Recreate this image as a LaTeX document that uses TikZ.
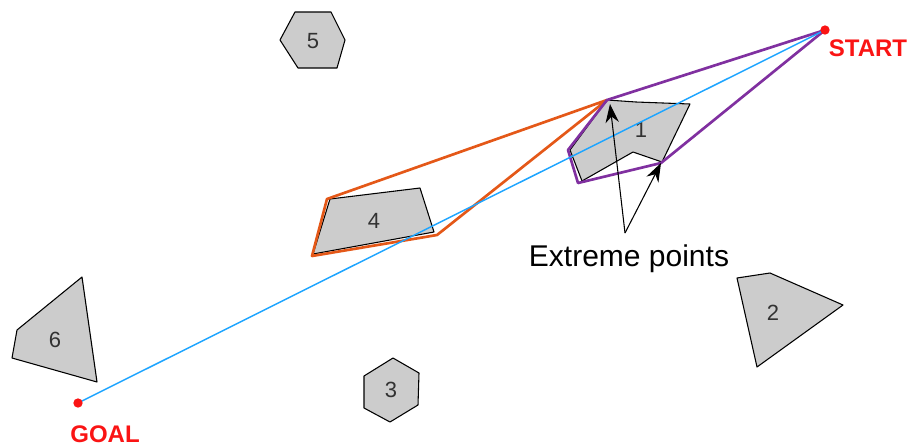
\documentclass[tikz,border=0pt]{standalone}
\usepackage{fontspec}
\setmainfont{Liberation Sans}
\usetikzlibrary{arrows.meta}
\definecolor{obsgray}{RGB}{204,204,204}
\definecolor{hullpurple}{RGB}{128,48,160}
\definecolor{hullorange}{RGB}{228,88,24}
\definecolor{pathblue}{RGB}{30,165,255}
\definecolor{ptred}{RGB}{250,20,20}
\definecolor{numgray}{RGB}{50,50,50}
\tikzset{
  obstacle/.style={draw=black,fill=obsgray,line width=0.8pt,line join=round},
  hullp/.style={draw=hullpurple,line width=2pt,line join=round},
  hullo/.style={draw=hullorange,line width=2pt,line join=round},
  pathline/.style={draw=pathblue,line width=1.1pt},
  numlabel/.style={text=numgray,font=\fontsize{16.5}{16.5}\selectfont,inner sep=0pt},
  endlabel/.style={text=ptred,font=\bfseries\fontsize{18}{18}\selectfont,inner sep=0pt},
  endpt/.style={circle,fill=ptred,minimum size=7pt,inner sep=0pt},
  pointer/.style={draw=black,line width=0.8pt,-{Stealth[length=14pt,width=10pt]}},
}
\begin{document}
\begin{tikzpicture}[x=0.75pt,y=-0.75pt]
\useasboundingbox (0,0) rectangle (913,447);
% obstacles
\draw[obstacle] (607,100) -- (636,102) -- (690,104) -- (662,162) -- (633,152) -- (582,181) -- (570,150) -- cycle;
\draw[obstacle] (737,278) -- (770,273) -- (843,305) -- (757,367) -- cycle;
\draw[obstacle] (393,358) -- (419,373) -- (418,405) -- (390,422) -- (364,408) -- (364,376) -- cycle;
\draw[obstacle] (330,199) -- (420,188) -- (434,232) -- (313,254) -- cycle;
\draw[obstacle] (295,12) -- (331,12) -- (345,40) -- (337,68) -- (298,68) -- (280,40) -- cycle;
\draw[obstacle] (82,277) -- (17,330) -- (12,358) -- (97,382) -- cycle;
% labels
\node[numlabel] (l1) at (641,130) {1};
\node[numlabel] (l2) at (773,313) {2};
\node[numlabel] (l3) at (391,390) {3};
\node[numlabel] (l4) at (374,221) {4};
\node[numlabel] (l5) at (313,41) {5};
\node[numlabel] (l6) at (55,340) {6};
% start / goal
\coordinate (S) at (825,30);
\coordinate (G) at (78,403);
% hull points
\coordinate (e1) at (607,100);
\coordinate (e2) at (661,163);
\coordinate (p1) at (568,150);
\coordinate (p2) at (578,183);
\coordinate (o1) at (327,199);
\coordinate (o2) at (437,235);
\coordinate (o3) at (312,256);
% hulls
\draw[hullo] (e1) -- (o1) -- (o3) -- (o2) -- cycle;
\draw[hullp] (S) -- (e1) -- (p1) -- (p2) -- (e2) -- cycle;
% straight path
\draw[pathline] (S) -- (G);
\node[endpt] (sdot) at (S) {};
\node[endpt] (gdot) at (G) {};
\node[endlabel] (slab) at (868,48) {START};
\node[endlabel] (glab) at (105,434) {GOAL};
% extreme points callout
\coordinate (apex) at (625,233);
\draw[pointer] (apex) -- (610,104);
\draw[pointer] (apex) -- (e2);
\node[font=\fontsize{22.5}{22.5}\selectfont,inner sep=0pt] (ext) at (629,259) {Extreme points};
\end{tikzpicture}
\end{document}
